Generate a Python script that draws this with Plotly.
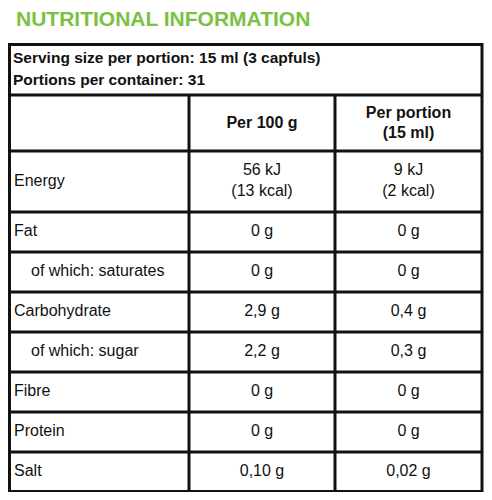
import plotly.graph_objects as go

# Inhalt der Tabelle
title = "NUTRITIONAL INFORMATION"
serving_lines = ["Serving size per portion: 15 ml (3 capfuls)", "Portions per container: 31"]
col_headers = ["Per 100 g", "Per portion<br>(15 ml)"]
nutrients = ["Energy", "Fat", "of which: saturates", "Carbohydrate",
             "of which: sugar", "Fibre", "Protein", "Salt"]
sub_row = [False, False, True, False, True, False, False, False]
per_100g = ["56 kJ<br>(13 kcal)", "0 g", "0 g", "2,9 g", "2,2 g", "0 g", "0 g", "0,10 g"]
per_portion = ["9 kJ<br>(2 kcal)", "0 g", "0 g", "0,4 g", "0,3 g", "0 g", "0 g", "0,02 g"]

# Geometrie in Seiten-Pixeln (body hat 8px Rand)
OFF = 8
W, H = 492, 500
x_left, x_c1, x_c2, x_right = 9.5, 189, 335, 482
y_top, y_serv, y_head = 44.5, 95, 151
row_h = [61] + [40] * (len(nutrients) - 2) + [39.5]

row_edges = [y_head]
for h in row_h:
    row_edges.append(row_edges[-1] + h)
row_mid = [(a + b) / 2 for a, b in zip(row_edges[:-1], row_edges[1:])]
row_mid[-1] += 0.5

FONT = "Liberation Sans Narrow, Arial Narrow, Liberation Sans, Arial, sans-serif"
BLACK = "#111111"
GREEN = "#7AC143"
FS = 16

fig = go.Figure()

# Titel
fig.add_trace(go.Scatter(
    x=[16], y=[21], mode="text", text=["<b>" + title + "</b>"],
    textposition="middle right", cliponaxis=False,
    textfont=dict(family="Liberation Sans, Arial, sans-serif", size=21, color=GREEN),
    hoverinfo="skip"))

# Portionsangaben
fig.add_trace(go.Scatter(
    x=[13, 13], y=[59, 81], mode="text",
    text=["<b>" + s + "</b>" for s in serving_lines],
    textposition="middle right", cliponaxis=False,
    textfont=dict(family=FONT, size=15.5, color=BLACK),
    hoverinfo="skip"))

# Spaltenköpfe
fig.add_trace(go.Scatter(
    x=[(x_c1 + x_c2) / 2, (x_c2 + x_right) / 2], y=[124, 124], mode="text",
    text=["<b>" + s + "</b>" for s in col_headers],
    textposition="middle center", cliponaxis=False,
    textfont=dict(family=FONT, size=FS, color=BLACK),
    hoverinfo="skip"))

# Nährstoffnamen
fig.add_trace(go.Scatter(
    x=[31 if s else 14 for s in sub_row], y=row_mid, mode="text",
    text=nutrients, textposition="middle right", cliponaxis=False,
    textfont=dict(family=FONT, size=FS, color=BLACK),
    hoverinfo="skip"))

# Werte
fig.add_trace(go.Scatter(
    x=[(x_c1 + x_c2) / 2] * len(per_100g), y=row_mid, mode="text",
    text=per_100g, textposition="middle center", cliponaxis=False,
    textfont=dict(family=FONT, size=FS, color=BLACK),
    hoverinfo="skip"))
fig.add_trace(go.Scatter(
    x=[(x_c2 + x_right) / 2] * len(per_portion), y=row_mid, mode="text",
    text=per_portion, textposition="middle center", cliponaxis=False,
    textfont=dict(family=FONT, size=FS, color=BLACK),
    hoverinfo="skip"))

# Linien
line = dict(color=BLACK, width=3)
shapes = [dict(type="rect", x0=x_left, x1=x_right, y0=y_top, y1=row_edges[-1], line=line)]
shapes.append(dict(type="line", x0=x_left, x1=x_right, y0=y_serv, y1=y_serv, line=line))
for y in row_edges[:-1]:
    shapes.append(dict(type="line", x0=x_left, x1=x_right, y0=y, y1=y, line=line))
for x in (x_c1, x_c2):
    shapes.append(dict(type="line", x0=x, x1=x, y0=y_serv, y1=row_edges[-1], line=line))
for s in shapes:
    s.update(xref="x", yref="y", layer="above")

fig.update_layout(
    width=W - OFF, height=H - 2 * OFF,
    margin=dict(l=0, r=0, t=0, b=0),
    paper_bgcolor="white", plot_bgcolor="white",
    showlegend=False,
    shapes=shapes,
    xaxis=dict(range=[OFF, W], visible=False, fixedrange=True),
    yaxis=dict(range=[H - OFF, OFF], visible=False, fixedrange=True),
)

fig.write_html("out.html")
